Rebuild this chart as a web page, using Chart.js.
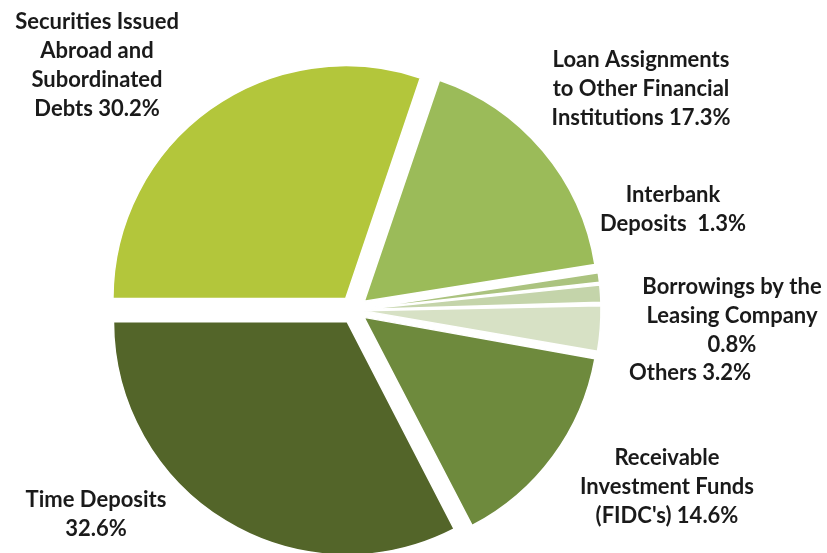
<!DOCTYPE html>
<html>
<head>
<meta charset="utf-8">
<script src="https://cdn.jsdelivr.net/npm/chart.js@4.4.1/dist/chart.umd.min.js"></script>
<style>
  html, body { margin: 0; padding: 0; background: #fff; overflow: hidden; }
  #wrap { position: relative; width: 827px; height: 553px; }
</style>
</head>
<body>
<div id="wrap"><canvas id="funding"></canvas></div>
<script>
// funding sources, clockwise from 9 o'clock
const categories = [
  "Securities Issued Abroad and Subordinated Debts",
  "Loan Assignments to Other Financial Institutions",
  "Borrowings by the Leasing Company",
  "Interbank Deposits",
  "Others",
  "Receivable Investment Funds (FIDC's)",
  "Time Deposits"
];
const shares = [30.2, 17.3, 0.8, 1.3, 3.2, 14.6, 32.6];

// how each label is broken into lines, {v} = the share
const labelLines = [
  ["Securities Issued", "Abroad and", "Subordinated", "Debts {v}"],
  ["Loan Assignments", "to Other Financial", "Institutions {v}"],
  ["Borrowings by the", "Leasing Company", "{v}"],
  ["Interbank", "Deposits  {v}"],
  ["Others {v}"],
  ["Receivable", "Investment Funds", "(FIDC's) {v}"],
  ["Time Deposits", "{v}"]
];

const sliceColors = ["#b3c63b", "#9bbb59", "#abc37f", "#c4d4aa", "#d7e1c5", "#6e8a3d", "#536529"];

// where each label block sits (centre x, first line y)
const labelPos = [
  [97, 22], [641, 60], [732, 287], [673, 195], [690, 373], [667, 458], [96, 500]
];

const GAP = 15;
const total = shares.reduce((a, b) => a + b, 0);

// arc offset in v4 moves the slice by offset/4 and also grows it by offset/4*fix,
// so pick the offset that gives each slice the same outer reach
function sliceOffset(ctx) {
  const circ = shares[ctx.dataIndex] / total * Math.PI * 2;
  const fix = 1 - Math.sin(Math.min(Math.PI, circ));
  return 4 * GAP / (1 + fix);
}

const labelPlugin = {
  id: "sliceLabels",
  afterDraw(chart) {
    const c = chart.ctx;
    c.save();
    c.font = "bold 22px Lato";
    c.fillStyle = "#1a1a1a";
    c.textAlign = "center";
    c.textBaseline = "middle";
    labelLines.forEach((lines, i) => {
      const v = shares[i].toFixed(1) + "%";
      const [x, y] = labelPos[i];
      lines.forEach((ln, j) => {
        c.fillText(ln.replace("{v}", v), x, y + j * 29);
      });
    });
    c.restore();
  }
};

new Chart(document.getElementById("funding"), {
  type: "pie",
  data: {
    labels: categories,
    datasets: [{
      data: shares,
      backgroundColor: sliceColors,
      borderColor: "#fff",
      borderWidth: 1.5,
      offset: sliceOffset,
      clip: false
    }]
  },
  options: {
    responsive: true,
    maintainAspectRatio: false,
    animation: false,
    rotation: 270,
    radius: 232,
    layout: { padding: { left: 0, right: 119, top: 67, bottom: 0 } },
    plugins: {
      legend: { display: false },
      tooltip: { enabled: false }
    }
  },
  plugins: [labelPlugin]
});
</script>
</body>
</html>
